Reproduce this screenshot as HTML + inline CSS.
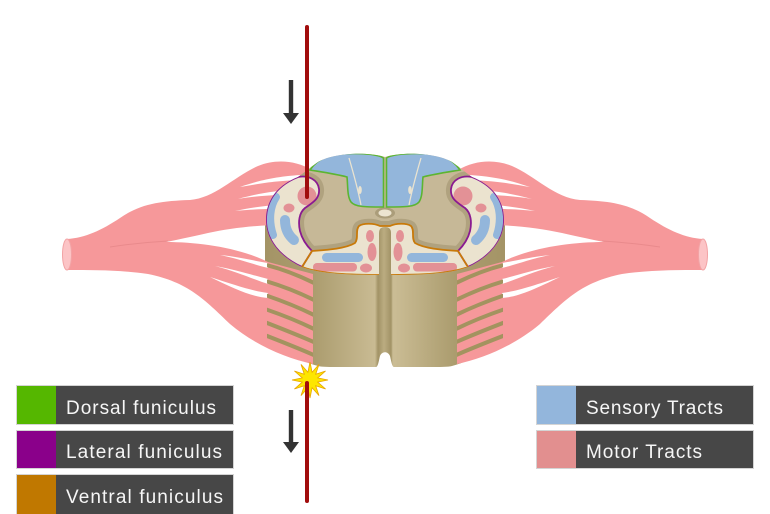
<!DOCTYPE html>
<html><head><meta charset="utf-8"><style>
html,body{margin:0;padding:0;background:#fff;}
body{width:770px;height:514px;overflow:hidden;}
svg{display:block;}
text{font-family:"Liberation Sans",sans-serif;}
</style></head><body>
<svg width="770" height="514" viewBox="0 0 770 514" xmlns="http://www.w3.org/2000/svg">
<defs>
  <linearGradient id="cyl" gradientUnits="userSpaceOnUse" x1="265" y1="0" x2="505" y2="0">
    <stop offset="0" stop-color="#a49466"/>
    <stop offset="0.2" stop-color="#ab9c6e"/>
    <stop offset="0.458" stop-color="#c9bb93"/>
    <stop offset="0.471" stop-color="#a29366"/>
    <stop offset="0.496" stop-color="#bbac81"/>
    <stop offset="0.525" stop-color="#a29366"/>
    <stop offset="0.533" stop-color="#cbbd95"/>
    <stop offset="0.792" stop-color="#ab9c6e"/>
    <stop offset="1" stop-color="#a49466"/>
  </linearGradient>
  <clipPath id="tf">
    <path d="M385,157 C370,152 335,152 318,162 C312,166 305,172 298,177 C280,184 266,198 266,220 C266,240 280,257 302,267 C320,274 350,275 385,275 C420,275 450,274 468,267 C490,257 504,240 504,220 C504,198 490,184 472,177 C465,172 458,166 452,162 C435,152 400,152 385,157 Z"/>
  </clipPath>
  <clipPath id="side"><rect x="267" y="200" width="46" height="180"/></clipPath>
  <g id="nerve">
    <path d="M67,239 C85,238 102,230 120,218 C140,204 160,201 190,200 C215,198 235,176 258,166 C275,159 295,160 312,170 L312,226 C280,223 240,226 208,233 C190,237 176,240 166,242 C200,242 240,248 268,262 L313,274 L313,364 C285,358 255,345 230,324 C205,300 188,282 148,274 C120,270 95,270 67,270 Z" fill="#f6989a"/>
    <path d="M110,247 C130,244 150,242 168,241" stroke="#e98a8c" stroke-width="1" fill="none"/>
    <ellipse cx="67" cy="254.5" rx="4.5" ry="15.5" fill="#fcc4c6" stroke="#f2a3a5" stroke-width="1"/>
    <!-- upper slits -->
    <path d="M240,187 C258,181 272,177 300,175 L300,180 C272,181 258,184 240,187 Z" fill="#fff"/>
    <path d="M238,199 C256,194 272,191 300,189 L300,194 C272,195 256,196 238,199 Z" fill="#fff"/>
    <path d="M235,211 C254,207 270,205 300,203 L300,208 C270,209 254,209 235,211 Z" fill="#fff"/>
    <!-- lower slits -->
    <path d="M220,255 C240,257 255,261 268,263 L268,268 C255,265 240,259 220,255 Z" fill="#fff"/>
    <path d="M215,266 C238,270 255,276 268,279 L268,284 C255,280 238,272 215,266 Z" fill="#fff"/>
    <path d="M210,277 C235,285 252,291 268,293 L268,298 C252,297 235,289 210,277 Z" fill="#fff"/>
    <!-- tan stripes on cylinder side -->
    <g clip-path="url(#side)" stroke="#a3935f" stroke-width="4" fill="none" stroke-linecap="round">
      <path d="M262,264 C280,268 298,275 316,284"/>
      <path d="M262,280 C280,285 298,292 316,301"/>
      <path d="M262,294 C280,300 298,307 316,316"/>
      <path d="M262,308 C280,314 298,321 316,330"/>
      <path d="M262,321 C280,328 298,335 316,343"/>
      <path d="M262,334 C280,341 298,348 316,356"/>
    </g>
  </g>
  <g id="half">
    <path d="M298,177 C280,184 266,198 266,220 C266,240 280,257 302,267 L312,251 C307,246 302,239 300,231 C298,222 299,213 305,208 C312,203 320,199 319,189 C318,180 309,175 298,177 Z" fill="#b0a27f" stroke="#b0a27f" stroke-width="10" stroke-linejoin="round"/>
  </g>
  <g id="halfTop">
    <path d="M298,177 C280,184 266,198 266,220 C266,240 280,257 302,267 L312,251 C307,246 302,239 300,231 C298,222 299,213 305,208 C312,203 320,199 319,189 C318,180 309,175 298,177 Z" fill="#ebe3cf"/>
    <circle cx="307" cy="196" r="9.5" fill="#e39196"/>
    <ellipse cx="289" cy="208" rx="5.5" ry="4.5" fill="#e39196"/>
    <path d="M276,197 C270,206 268,220 273,235" stroke="#93b6db" stroke-width="8" fill="none" stroke-linecap="round"/>
    <path d="M285,220 C285,228 288,235 294,240" stroke="#93b6db" stroke-width="10" fill="none" stroke-linecap="round"/>
    <path d="M298,177 C280,184 266,198 266,220 C266,240 280,257 302,267 L312,251 C307,246 302,239 300,231 C298,222 299,213 305,208 C312,203 320,199 319,189 C318,180 309,175 298,177 Z" fill="none" stroke="#8a1a91" stroke-width="1.8"/>
    <ellipse cx="370" cy="236" rx="4" ry="6" fill="#e39196"/>
    <ellipse cx="372" cy="252" rx="4.5" ry="9" fill="#e39196"/>
    <ellipse cx="366" cy="268" rx="6" ry="4.5" fill="#e39196"/>
    <rect x="322" y="253" width="41" height="9" rx="4.5" fill="#93b6db"/>
    <rect x="313" y="263" width="44" height="8.5" rx="4" fill="#e39196"/>
    <path d="M383.5,158 C376,153 345,152 328,156 C320,159 314,164 310,170 C322,172 336,174 347,177 C348,186 347,196 351,202 C355,207 365,207 383.5,207 Z" fill="#93b6db" stroke="#5cb531" stroke-width="1.6"/>
    <path d="M349,158 C354,175 358,190 361,205" stroke="#eae3d0" stroke-width="1.3" fill="none"/>
    <ellipse cx="360" cy="190" rx="1.8" ry="4" fill="#eae3d0"/>
  </g>
</defs>

<path d="M265,215 L265,325 C275,345 295,360 318,366 C322,367 330,367 340,367 L376,367 C378,367 379,360 380,356 C382,351 388,351 390,356 C391,360 392,367 394,367 L430,367 C440,367 448,367 452,366 C475,360 495,345 505,325 L505,215 Z" fill="url(#cyl)"/>

<use href="#nerve"/>
<use href="#nerve" transform="matrix(-1,0,0,1,770,0)"/>

<path d="M385,157 C370,152 335,152 318,162 C312,166 305,172 298,177 C280,184 266,198 266,220 C266,240 280,257 302,267 C320,274 350,275 385,275 C420,275 450,274 468,267 C490,257 504,240 504,220 C504,198 490,184 472,177 C465,172 458,166 452,162 C435,152 400,152 385,157 Z" fill="#c6b897"/>
<g clip-path="url(#tf)">
  <use href="#half"/>
  <use href="#half" transform="matrix(-1,0,0,1,770,0)"/>
  <path d="M302,267 L312,251 C325,250 345,249 355,243 C359,238 355,230 359,226 C363,223 374,223 380,226 L390,226 C396,223 407,223 411,226 C415,230 411,238 415,243 C425,249 445,250 458,251 L468,267 C450,274 420,275 385,275 C350,275 320,274 302,267 Z" fill="#b0a27f" stroke="#b0a27f" stroke-width="10" stroke-linejoin="round"/>
  <ellipse cx="385" cy="213" rx="10" ry="5.5" fill="#ab9d7a"/>
  <path d="M302,267 L312,251 C325,250 345,249 355,243 C359,238 355,230 359,226 C363,223 374,223 380,226 L390,226 C396,223 407,223 411,226 C415,230 411,238 415,243 C425,249 445,250 458,251 L468,267 C450,274 420,275 385,275 C350,275 320,274 302,267 Z" fill="#ebe3cf"/>
  <use href="#halfTop"/>
  <use href="#halfTop" transform="matrix(-1,0,0,1,770,0)"/>
  <path d="M302,267 L312,251 C325,250 345,249 355,243 C359,238 355,230 359,226 C363,223 374,223 380,226 L390,226 C396,223 407,223 411,226 C415,230 411,238 415,243 C425,249 445,250 458,251 L468,267 C450,274 420,275 385,275 C350,275 320,274 302,267 Z" fill="none" stroke="#c87a0a" stroke-width="1.8"/>
  <path d="M379,277 L379,233 Q379,227 385,227 Q391,227 391,233 L391,277 Z" fill="url(#cyl)"/>
  <ellipse cx="385" cy="213" rx="6.5" ry="3.5" fill="#ece4d0"/>
</g>

<line x1="307" y1="27" x2="307" y2="197" stroke="#a10d0d" stroke-width="4" stroke-linecap="round"/>

<polygon points="310,362 312.1,372.3 319,364.4 315.7,374.3 325.6,371 317.7,377.9 328,380 317.7,382.1 325.6,389 315.7,385.7 319,395.6 312.1,387.7 310,398 307.9,387.7 301,395.6 304.3,385.7 294.4,389 302.3,382.1 292,380 302.3,377.9 294.4,371 304.3,374.3 301,364.4 307.9,372.3" fill="#fde600" stroke="#e8a400" stroke-width="0.8"/>
<line x1="307" y1="383" x2="307" y2="501" stroke="#a10d0d" stroke-width="4" stroke-linecap="round"/>

<rect x="288.8" y="80" width="4.4" height="34" fill="#333"/>
<polygon points="283,113 299,113 291,124" fill="#333"/>
<rect x="288.8" y="410" width="4.4" height="34" fill="#333"/>
<polygon points="283,442 299,442 291,453" fill="#333"/>

<g stroke="#d4d4d4" stroke-width="1">
  <rect x="16.5" y="385.5" width="217" height="39" fill="#474747"/>
  <rect x="16.5" y="430.5" width="217" height="38" fill="#474747"/>
  <rect x="16.5" y="474.5" width="217" height="40" fill="#474747"/>
  <rect x="536.5" y="385.5" width="217" height="39" fill="#474747"/>
  <rect x="536.5" y="430.5" width="217" height="38" fill="#474747"/>
</g>
<rect x="17" y="386" width="39" height="38" fill="#55b700"/>
<rect x="17" y="431" width="39" height="37" fill="#8a008a"/>
<rect x="17" y="475" width="39" height="39" fill="#c07800"/>
<rect x="537" y="386" width="39" height="38" fill="#93b6dc"/>
<rect x="537" y="431" width="39" height="37" fill="#e28f8f"/>
<g fill="#f6f6f6" font-size="19">
  <text x="66" y="414" textLength="150" lengthAdjust="spacing">Dorsal funiculus</text>
  <text x="66" y="458" textLength="156" lengthAdjust="spacing">Lateral funiculus</text>
  <text x="66" y="503" textLength="157" lengthAdjust="spacing">Ventral funiculus</text>
  <text x="586" y="414" textLength="137" lengthAdjust="spacing">Sensory Tracts</text>
  <text x="586" y="458" textLength="116" lengthAdjust="spacing">Motor Tracts</text>
</g>
</svg>
</body></html>
